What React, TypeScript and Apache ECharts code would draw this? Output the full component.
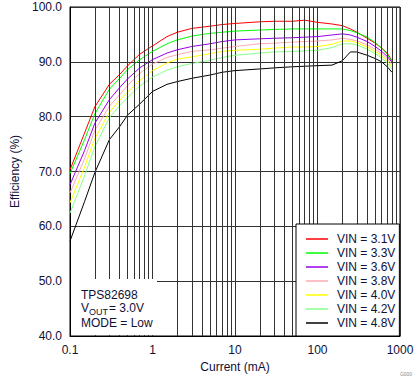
import React, { useEffect, useRef } from "react";
import * as echarts from "echarts";

const currents = [0.1, 0.15, 0.2, 0.3, 0.4, 0.5, 0.7, 1, 1.5, 2, 3, 5, 7, 10, 20, 30, 50, 70, 100, 150, 200, 250, 300, 400, 500, 600, 700, 800];

const vin31 = [70.3, 77.0, 81.8, 85.9, 87.7, 89.3, 91.4, 92.9, 94.6, 95.4, 96.1, 96.5, 96.8, 97.0, 97.3, 97.4, 97.4, 97.6, 97.2, 96.9, 96.6, 96.0, 95.4, 94.3, 93.4, 92.5, 91.6, 90.2];
const vin33 = [69.6, 75.8, 80.5, 85.0, 87.0, 88.6, 90.4, 91.9, 93.3, 94.0, 94.7, 95.2, 95.4, 95.6, 95.8, 95.9, 96.0, 96.0, 96.0, 96.0, 96.0, 95.7, 95.3, 94.5, 93.5, 92.5, 91.4, 90.1];
const vin36 = [67.6, 73.8, 78.8, 83.1, 85.3, 86.9, 88.9, 90.4, 91.6, 92.2, 92.8, 93.3, 93.7, 94.0, 94.2, 94.3, 94.4, 94.5, 94.6, 94.9, 95.1, 94.9, 94.5, 93.7, 92.8, 91.9, 91.0, 89.9];
const vin38 = [66.1, 72.3, 77.5, 81.9, 84.0, 85.7, 87.9, 89.6, 90.8, 91.3, 91.9, 92.2, 92.5, 92.8, 93.3, 93.4, 93.6, 93.7, 93.8, 94.0, 94.3, 94.1, 93.8, 93.1, 92.3, 91.5, 90.6, 89.5];
const vin40 = [64.3, 70.8, 76.0, 80.8, 83.0, 84.5, 86.6, 88.4, 89.8, 90.5, 90.9, 91.5, 91.9, 92.1, 92.3, 92.5, 92.7, 92.7, 92.8, 93.2, 93.8, 93.8, 93.5, 92.7, 91.9, 91.1, 90.2, 89.1];
const vin42 = [62.4, 69.2, 74.5, 79.8, 82.0, 83.5, 85.6, 87.2, 88.5, 89.1, 89.7, 90.3, 90.8, 91.2, 91.6, 91.8, 91.9, 92.0, 92.1, 92.6, 93.3, 93.3, 93.1, 92.3, 91.5, 90.7, 89.8, 88.7];
const vin48 = [57.3, 64.5, 69.8, 75.8, 78.2, 80.3, 82.3, 84.6, 85.9, 86.4, 87.0, 87.6, 88.1, 88.4, 88.7, 88.9, 89.1, 89.2, 89.3, 89.4, 90.2, 91.8, 91.8, 91.2, 90.6, 90.0, 89.1, 88.1];

const seriesNames = ["VIN = 3.1V", "VIN = 3.3V", "VIN = 3.6V", "VIN = 3.8V", "VIN = 4.0V", "VIN = 4.2V", "VIN = 4.8V"];
const seriesValues = [vin31, vin33, vin36, vin38, vin40, vin42, vin48];
const seriesColors = ["#ff0000", "#00ff00", "#9900ee", "#ffaab4", "#ffff00", "#88ff88", "#000000"];

const xTickLabels = ["0.1", "1", "10", "100", "1000"];
const yTicks = [40, 50, 60, 70, 80, 90, 100];
const decades = [0.1, 1, 10, 100];
const minorMultipliers = [2, 3, 4, 5, 6, 7, 8, 9];

const TEXT = "#101038";
const FONT = "Liberation Sans";

export default function App() {
  const ref = useRef<HTMLDivElement>(null);
  useEffect(() => {
    if (!ref.current) return;
    const chart = echarts.init(ref.current, undefined, { renderer: "svg" });
    const minorTicks: number[] = [];
    decades.forEach((d) => minorMultipliers.forEach((m) => minorTicks.push(parseFloat((d * m).toPrecision(3)))));

    const series: any[] = seriesNames.map((name, i) => ({
      name,
      type: "line",
      symbol: "none",
      showSymbol: false,
      color: seriesColors[i],
      lineStyle: { width: 1, color: seriesColors[i] },
      data: currents.map((c, j) => [c, seriesValues[i][j]]),
      z: 3,
    }));
    series.push({
      name: "grid-minor",
      type: "line",
      data: [],
      z: 1,
      markLine: {
        silent: true,
        symbol: "none",
        animation: false,
        label: { show: false },
        lineStyle: { color: "#333333", width: 1, type: "solid" },
        data: minorTicks.map((v) => ({ xAxis: v })),
      },
    });

    chart.setOption({
      animation: false,
      textStyle: { fontFamily: FONT },
      grid: {
        left: 70,
        right: 19,
        top: 7,
        bottom: 46,
        show: true,
        borderColor: "#000",
        borderWidth: 1,
        backgroundColor: "transparent",
      },
      xAxis: {
        type: "log",
        logBase: 10,
        min: 0.1,
        max: 1000,
        name: "Current (mA)",
        nameLocation: "middle",
        nameGap: 22,
        nameTextStyle: { color: TEXT, fontSize: 12, fontFamily: FONT },
        axisLine: { show: true, lineStyle: { color: "#000", width: 1 } },
        axisTick: { show: false },
        axisLabel: {
          color: TEXT,
          fontSize: 12,
          fontFamily: FONT,
          margin: 8,
          formatter: (_v: number, idx: number) => xTickLabels[idx] ?? "",
        },
        splitLine: { show: true, lineStyle: { color: "#333333", width: 1 } },
      },
      yAxis: {
        type: "value",
        min: yTicks[0],
        max: yTicks[yTicks.length - 1],
        interval: 10,
        name: "Efficiency (%)",
        nameLocation: "middle",
        nameGap: 34,
        nameRotate: 90,
        nameTextStyle: { color: TEXT, fontSize: 12, fontFamily: FONT },
        axisLine: { show: true, lineStyle: { color: "#000", width: 1 } },
        axisTick: { show: false },
        axisLabel: {
          color: TEXT,
          fontSize: 12,
          fontFamily: FONT,
          margin: 8,
          formatter: (v: number) => v.toFixed(1),
        },
        splitLine: { show: true, lineStyle: { color: "#333333", width: 1 } },
      },
      legend: {
        orient: "vertical",
        left: 296,
        top: 224,
        data: seriesNames.map((n) => ({ name: n, icon: "rect" })),
        backgroundColor: "#fff",
        borderColor: "#000",
        borderWidth: 1,
        borderRadius: 0,
        padding: [8, 4, 6, 10],
        itemGap: 0,
        itemWidth: 22,
        itemHeight: 1.5,
        selectedMode: false,
        textStyle: { color: TEXT, fontSize: 12, fontFamily: FONT, lineHeight: 14, padding: [0, 0, 0, 4] },
        z: 10,
      },
      graphic: [
        {
          type: "rect",
          z: 20,
          shape: { x: 71, y: 279, width: 86, height: 56 },
          style: { fill: "#fff" },
        },
        {
          type: "text",
          z: 21,
          x: 81,
          y: 295,
          style: { text: "TPS82698", fill: TEXT, font: `12px ${FONT}`, verticalAlign: "middle" },
        },
        {
          type: "text",
          z: 21,
          x: 81,
          y: 308,
          style: { text: "V", fill: TEXT, font: `12px ${FONT}`, verticalAlign: "middle" },
        },
        {
          type: "text",
          z: 21,
          x: 89,
          y: 312,
          style: { text: "OUT", fill: TEXT, font: `9px ${FONT}`, verticalAlign: "middle" },
        },
        {
          type: "text",
          z: 21,
          x: 109,
          y: 308,
          style: { text: "= 3.0V", fill: TEXT, font: `12px ${FONT}`, verticalAlign: "middle" },
        },
        {
          type: "text",
          z: 21,
          x: 81,
          y: 323,
          style: { text: "MODE = Low", fill: TEXT, font: `12px ${FONT}`, verticalAlign: "middle" },
        },
        {
          type: "text",
          z: 21,
          x: 406,
          y: 374,
          style: { text: "G000", fill: "#888", font: `5px ${FONT}`, align: "center", verticalAlign: "middle" },
        },
      ],
      series,
    });
    return () => chart.dispose();
  }, []);
  return <div ref={ref} style={{ position: "absolute", left: 0, top: 0, width: 419, height: 382 }} />;
}
